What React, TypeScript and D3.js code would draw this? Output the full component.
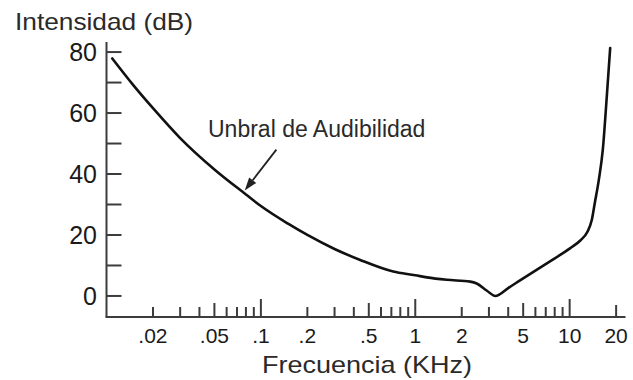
import React from 'react';
import * as d3 from 'd3';

// Threshold of hearing curve (frequency in kHz, intensity in dB)
const freqKHz = [0.0109, 0.015, 0.02, 0.03, 0.05, 0.08, 0.1, 0.15, 0.2, 0.3, 0.44, 0.72, 1.0, 1.19, 1.6, 2.27, 2.5, 2.9, 3.3, 4.0, 4.8, 7.16, 10.1, 11.72, 13.01, 13.91, 14.55, 15.44, 16.39, 17.4, 18.3];
const thresholdDb = [77.9, 69.0, 61.6, 51.8, 41.5, 33.3, 29.5, 23.7, 20.0, 15.4, 11.8, 8.0, 6.8, 6.1, 5.3, 4.7, 4.1, 1.8, 0, 2.6, 5.2, 10.8, 15.7, 18.2, 21.0, 24.9, 30.5, 38.0, 47.9, 65.4, 81.3];

const xTickValues = [0.02, 0.03, 0.04, 0.05, 0.06, 0.07, 0.08, 0.09, 0.1, 0.2, 0.3, 0.4, 0.5, 0.6, 0.7, 0.8, 0.9, 1, 2, 3, 4, 5, 6, 7, 8, 9, 10, 20];
const xLabelValues = [0.02, 0.05, 0.1, 0.2, 0.5, 1, 2, 5, 10, 20];
const xLabelTexts = ['.02', '.05', '.1', '.2', '.5', '1', '2', '5', '10', '20'];
const yTickValues = [0, 10, 20, 30, 40, 50, 60, 70, 80];
const yLabelValues = [0, 20, 40, 60, 80];

const yTitle = 'Intensidad (dB)';
const xTitle = 'Frecuencia (KHz)';
const annotationText = 'Unbral de Audibilidad';
const annotationTail = [0.126, 48];
const annotationTip = [0.0786, 34.6];

const FONT = '"Liberation Sans", Arial, Helvetica, sans-serif';

export default function App() {
  const x = d3.scaleLog().domain([0.01, 23]).range([106.5, 625.5]);
  const y = d3.scaleLinear().domain([-6.9, 83.3]).range([317, 42]);

  const line = d3
    .line<number>()
    .x((_, i) => x(freqKHz[i]))
    .y((d) => y(d))
    .curve(d3.curveMonotoneX);

  const tickLen = (v: number) => {
    const m = v / Math.pow(10, Math.floor(Math.log10(v) + 1e-9));
    const r = Math.round(m);
    if (r === 1) return 18;
    if (r === 5) return 14;
    if (v === 20) return 12;
    return 10;
  };

  const tx = x(annotationTail[0]);
  const ty = y(annotationTail[1]);
  const hx = x(annotationTip[0]);
  const hy = y(annotationTip[1]);
  const dx = hx - tx;
  const dy = hy - ty;
  const len = Math.hypot(dx, dy);
  const ux = dx / len;
  const uy = dy / len;
  const headL = 13;
  const headW = 4.5;
  const bx = hx - ux * headL;
  const by = hy - uy * headL;
  const head = `${hx},${hy} ${bx - uy * headW},${by + ux * headW} ${bx + uy * headW},${by - ux * headW}`;

  const axisColor = '#3c3c3c';
  const x0 = x.range()[0];
  const y0 = y.range()[0];

  return (
    <svg
      width={633}
      height={380}
      style={{ position: 'absolute', left: 0, top: 0, background: '#fff' }}
      fontFamily={FONT}
    >
      <rect width={633} height={380} fill="#fff" />
      {/* axes lines */}
      <line x1={x0} x2={x0} y1={y.range()[1]} y2={y0} stroke={axisColor} strokeWidth={2} />
      <line x1={x0 - 1} x2={x.range()[1]} y1={y0} y2={y0} stroke={axisColor} strokeWidth={2} />

      {/* y ticks */}
      {yTickValues.map((v) => (
        <line key={'yt' + v} x1={x0} x2={x0 + 15} y1={y(v)} y2={y(v)} stroke={axisColor} strokeWidth={2} />
      ))}
      {yLabelValues.map((v) => (
        <text key={'yl' + v} x={97} y={y(v)} dy="0.36em" textAnchor="end" fontSize={25} fill="#1a1a1a">
          {v}
        </text>
      ))}

      {/* x ticks */}
      {xTickValues.map((v) => (
        <line key={'xt' + v} x1={x(v)} x2={x(v)} y1={y0} y2={y0 - tickLen(v)} stroke={axisColor} strokeWidth={2} />
      ))}
      {xLabelValues.map((v, i) => (
        <text key={'xl' + v} x={x(v)} y={343} textAnchor="middle" fontSize={21} fill="#1a1a1a">
          {xLabelTexts[i]}
        </text>
      ))}

      {/* titles */}
      <text x={15} y={30} fontSize={24} fill="#2a2a2a" textLength={178} lengthAdjust="spacingAndGlyphs">
        {yTitle}
      </text>
      <text x={262} y={373} fontSize={24} fill="#2a2a2a" textLength={210} lengthAdjust="spacingAndGlyphs">
        {xTitle}
      </text>

      {/* curve */}
      <path d={line(thresholdDb) || ''} fill="none" stroke="#111" strokeWidth={2.6} strokeLinecap="round" strokeLinejoin="round" />

      {/* annotation */}
      <text x={208} y={137} fontSize={23} fill="#2a2a2a">
        {annotationText}
      </text>
      <line x1={tx} y1={ty} x2={bx} y2={by} stroke="#222" strokeWidth={1.8} />
      <polygon points={head} fill="#222" />
    </svg>
  );
}
